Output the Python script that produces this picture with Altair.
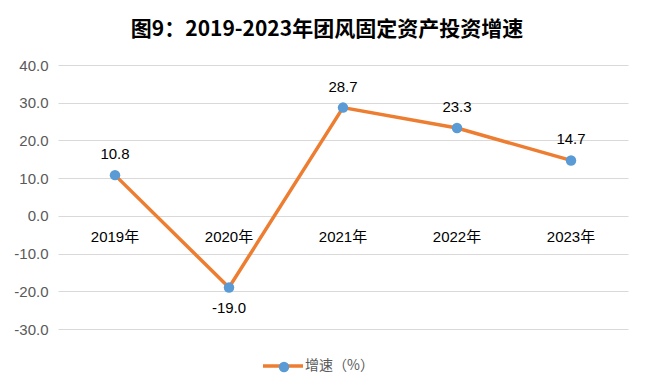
import altair as alt
import pandas as pd

years = ["2019年", "2020年", "2021年", "2022年", "2023年"]
values = [10.8, -19.0, 28.7, 23.3, 14.7]
series_name = "增速（%）"
y_ticks = [-30, -20, -10, 0, 10, 20, 30, 40]

df = pd.DataFrame({
    "year": years,
    "value": values,
    "series": [series_name] * len(years),
    "dot": [" "] * len(years),
})

LAT = "Liberation Sans, Noto Sans CJK SC"
CJK = "Noto Sans CJK SC"

x = alt.X("year:N", sort=years, scale=alt.Scale(type="point", padding=0.5), axis=None)
y_scale = alt.Scale(domain=[-30, 40], nice=False, zero=False)
y_axis = alt.Axis(
    values=y_ticks, title=None, domain=False, ticks=False,
    labelExpr="replace(format(datum.value, '.1f'), '\u2212', '-')",
    labelOverlap=False, labelPadding=10, labelFontSize=15,
    labelColor="#595959", labelFont=LAT,
    gridColor="#d9d9d9", gridWidth=1,
)
y = alt.Y("value:Q", scale=y_scale, axis=y_axis)

base = alt.Chart(df).encode(x=x, y=y)

line = base.mark_line(strokeWidth=3.5).encode(
    stroke=alt.Stroke(
        "series:N",
        scale=alt.Scale(range=["#ED7D31"]),
        legend=alt.Legend(
            orient="none", legendX=203, legendY=279, title=None,
            symbolType="stroke", symbolSize=1600, symbolStrokeWidth=3.5,
            labelFontSize=14, labelColor="#595959", labelFont=CJK, labelOffset=0,
        ),
    )
)

points = base.mark_circle(size=110, opacity=1).encode(
    fill=alt.Fill(
        "dot:N",
        scale=alt.Scale(range=["#5B9BD5"]),
        legend=alt.Legend(
            orient="none", legendX=219, legendY=295, title=None,
            symbolType="circle", symbolSize=110, symbolStrokeWidth=0,
            labelExpr="''", labelFontSize=14,
        ),
    )
)

label_text = "replace(format(datum.value, '.1f'), '\u2212', '-')"

labels_pos = base.transform_filter("datum.value >= 0").transform_calculate(
    lbl=label_text
).mark_text(dy=-21, fontSize=15, font=LAT, color="#000000").encode(text="lbl:N")

labels_neg = base.transform_filter("datum.value < 0").transform_calculate(
    lbl=label_text
).mark_text(dy=20, fontSize=15, font=LAT, color="#000000").encode(text="lbl:N")

cats = alt.Chart(df).mark_text(dy=21, fontSize=15, font=LAT, color="#000000").encode(
    x=x, y=alt.Y(datum=0, scale=y_scale, axis=y_axis), text="year:N"
)

chart = alt.layer(line, points, labels_pos, labels_neg, cats).properties(
    width=570,
    height=264,
    padding={"left": 50, "top": 57, "right": 14, "bottom": 55},
    autosize=alt.AutoSizeParams(type="none"),
    background="white",
    title=alt.TitleParams(
        "图9：2019-2023年团风固定资产投资增速",
        fontSize=21, font=CJK, fontWeight="bold", color="#000000",
        anchor="middle", dx=-16, offset=18,
    ),
).resolve_legend(fill="independent", stroke="independent").configure_view(stroke=None)

chart.save("out.html", embed_options={"renderer": "svg", "actions": False})
